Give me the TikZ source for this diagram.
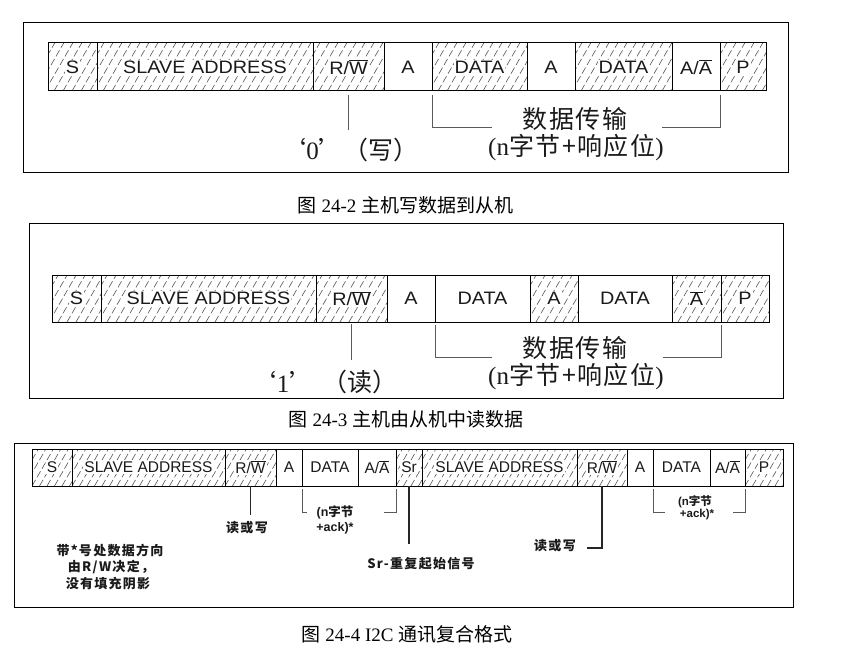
\documentclass[tikz,border=0pt]{standalone}
\usepackage{fontspec}
\setmainfont{Liberation Serif}
\newfontfamily\boxfont[FakeStretch=1.1]{Liberation Sans}
\newfontfamily\boxfontn{Liberation Sans}
\newfontfamily\cjk{Noto Sans CJK SC}
\newfontfamily\cjksp[LetterSpace=10]{Noto Sans CJK SC}
\newfontfamily\cjkbig[LetterSpace=6]{Noto Sans CJK SC}
\usetikzlibrary{calc}

\definecolor{hatchgray}{HTML}{555555}
\definecolor{linegray}{HTML}{5A5A5A}
\definecolor{txt}{HTML}{1A1A1A}

\newcommand\wb[1]{{\setlength{\fboxsep}{1pt}\colorbox{white}{#1}}}
\newcommand\ovl[1]{$\overline{\mbox{#1}}$}
\newcommand\fieldbox[7]{\node[fieldst,#6,minimum width={#3-#2},minimum height={#5-#4}] (#1) at ({(#2+#3)/2},{(#4+#5)/2}) {#7};}

\tikzset{
  fieldst/.style={draw=black, line width=1pt, inner sep=0pt, outer sep=0pt, text=txt},
  hatchline/.style={draw=hatchgray, line width=0.6pt, dash pattern=on 7pt off 3pt},
  hatched/.style={path picture={\foreach \k in {0,...,40}{\draw[hatchline] ($(path picture bounding box.south west)+(\k*#1pt-30pt,0pt)$) -- ++(60:70pt);}}},
  hatched/.default=9,
  rowA/.style={font=\boxfont\fontsize{18}{20}\selectfont},
  rowC/.style={font=\boxfontn\fontsize{15.5}{17}\selectfont},
  bracket/.style={draw=linegray, line width=0.8pt},
  tickline/.style={draw=linegray, line width=0.8pt},
  thickline/.style={draw=black!85, line width=1.3pt},
  frame/.style={draw=black, line width=1pt},
  bigcjk/.style={font=\cjkbig\fontsize{25}{28}\selectfont, text=txt, inner sep=0pt},
  midt/.style={font=\fontsize{25}{28}\selectfont, text=txt, inner sep=0pt},
  capt/.style={font=\fontsize{19}{22}\selectfont, text=black, inner sep=0pt},
  smallcjk/.style={font=\cjksp\bfseries\fontsize{13}{15}\selectfont, text=txt, inner sep=0pt},
  tinyt/.style={font=\boxfontn\bfseries\fontsize{12.5}{14}\selectfont, text=txt, inner sep=0pt},
}

\begin{document}
\begin{tikzpicture}[x=1pt,y=-1pt]
\fill[white] (0,0) rectangle (845,658);
\useasboundingbox (0,0) rectangle (845,658);

% ---------- frames ----------
\draw[frame] (23,23) rectangle (788,172);
\draw[frame] (29,223) rectangle (783,398);
\draw[frame] (14,443) rectangle (793,607);

% ---------- row 1 ----------
\fieldbox{s1}{48}{97}{43}{91}{hatched,rowA}{\wb{S}}
\fieldbox{sa1}{97}{313}{43}{91}{hatched,rowA}{\wb{SLAVE ADDRESS}}
\fieldbox{rw1}{313}{384}{43}{91}{hatched,rowA}{\wb{R/\ovl{W}}}
\fieldbox{a1}{384}{432}{43}{91}{rowA}{A}
\fieldbox{d1}{432}{527}{43}{91}{hatched,rowA}{\wb{DATA}}
\fieldbox{a1b}{527}{575}{43}{91}{rowA}{A}
\fieldbox{d1b}{575}{672}{43}{91}{hatched,rowA}{\wb{DATA}}
\fieldbox{aa1}{672}{720}{43}{91}{rowA}{A/\ovl{A}}
\fieldbox{p1}{720}{766}{43}{91}{hatched,rowA}{\wb{P}}

\coordinate (r1e) at (348.5,130);
\draw[tickline] ([yshift=-4pt]rw1.south) -- (r1e);
\coordinate (b1l) at (492,127);
\coordinate (b1r) at (662,127);
\draw[bracket] ([yshift=-4pt]d1.south west) |- (b1l);
\draw[bracket] ([yshift=-4pt]aa1.south east) |- (b1r);
\node[midt] (w0) at (350,150) {{\cjk ‘}0{\cjk ’（写）}};
\node[bigcjk] (dt1) at (575,119) {数据传输};
\node[bigcjk] (dt1b) at (576,148) {{\rmfamily (n}字节+响应位{\rmfamily )}};
\node[capt] (cap1) at (405.5,205) {{\cjk 图} 24-2 {\cjk 主机写数据到从机}};

% ---------- row 2 ----------
\fieldbox{s2}{52}{101}{275}{322}{hatched,rowA}{\wb{S}}
\fieldbox{sa2}{101}{316}{275}{322}{hatched,rowA}{\wb{SLAVE ADDRESS}}
\fieldbox{rw2}{316}{387}{275}{322}{hatched,rowA}{\wb{R/\ovl{W}}}
\fieldbox{a2}{387}{435}{275}{322}{rowA}{A}
\fieldbox{d2}{435}{530}{275}{322}{rowA}{DATA}
\fieldbox{a2b}{530}{578}{275}{322}{hatched,rowA}{\wb{A}}
\fieldbox{d2b}{578}{672}{275}{322}{rowA}{DATA}
\fieldbox{na2}{672}{721}{275}{322}{hatched,rowA}{\wb{\ovl{A}}}
\fieldbox{p2}{721}{769}{275}{322}{hatched,rowA}{\wb{P}}

\coordinate (r2e) at (351.5,360);
\draw[tickline] ([yshift=-2pt]rw2.south) -- (r2e);
\coordinate (b2l) at (492,357);
\coordinate (b2r) at (663,357);
\draw[bracket] ([yshift=-3pt]d2.south west) |- (b2l);
\draw[bracket] ([yshift=-3pt]na2.south east) |- (b2r);
\node[midt] (w1) at (283,382) {{\cjk ‘}1{\cjk ’}};
\node[midt] (w1b) at (360,382) {\cjk （读）};
\node[bigcjk] (dt2) at (575,348) {数据传输};
\node[bigcjk] (dt2b) at (576,377) {{\rmfamily (n}字节+响应位{\rmfamily )}};
\node[capt] (cap2) at (406,419) {{\cjk 图} 24-3 {\cjk 主机由从机中读数据}};

% ---------- row 3 ----------
\fieldbox{s3}{32}{72}{449}{486}{hatched=7.5,rowC}{\wb{S}}
\fieldbox{sa3}{72}{225}{449}{486}{hatched=7.5,rowC}{\wb{SLAVE ADDRESS}}
\fieldbox{rw3}{225}{276}{449}{486}{hatched=7.5,rowC}{\wb{R/\ovl{W}}}
\fieldbox{a3}{276}{302}{449}{486}{rowC}{A}
\fieldbox{d3}{302}{358}{449}{486}{rowC}{DATA}
\fieldbox{aa3}{358}{396}{449}{486}{rowC}{A/\ovl{A}}
\fieldbox{sr3}{396}{422}{449}{486}{hatched=7.5,rowC}{\wb{Sr}}
\fieldbox{sa4}{422}{577}{449}{486}{hatched=7.5,rowC}{\wb{SLAVE ADDRESS}}
\fieldbox{rw4}{577}{627}{449}{486}{hatched=7.5,rowC}{\wb{R/\ovl{W}}}
\fieldbox{a4}{627}{653}{449}{486}{rowC}{A}
\fieldbox{d4}{653}{710}{449}{486}{rowC}{DATA}
\fieldbox{aa4}{710}{745}{449}{486}{rowC}{A/\ovl{A}}
\fieldbox{p3}{745}{783}{449}{486}{hatched=7.5,rowC}{\wb{P}}

\coordinate (r3e) at (250.5,515);
\draw[thickline] (rw3.south) -- (r3e);
\coordinate (sre) at (409,544);
\draw[thickline] (sr3.south) -- (sre);
\coordinate (r4e) at (587,548);
\draw[thickline] (rw4.south) |- (r4e);
\coordinate (b3l) at (307,512);
\coordinate (b3r) at (384,512);
\draw[bracket] ([yshift=-3pt]d3.south west) |- (b3l);
\draw[bracket] ([yshift=-3pt]aa3.south east) |- (b3r);
\coordinate (b4l) at (665,512);
\coordinate (b4r) at (733,512);
\draw[bracket] ([yshift=-3pt]d4.south west) |- (b4l);
\draw[bracket] ([yshift=-3pt]aa4.south east) |- (b4r);

\node[smallcjk] (rwt3) at (247,528) {读或写};
\node[smallcjk] (rwt4) at (555,546) {读或写};
\node[smallcjk] (srt) at (421,564) {Sr-重复起始信号};
\node[tinyt] (bt1a) at (335,512) {(n{\cjk\bfseries 字节}};
\node[tinyt] (bt1b) at (335,528) {+ack)*};
\node[tinyt, font=\boxfontn\bfseries\fontsize{11.5}{13}\selectfont] (bt2a) at (695,502) {(n{\cjk\bfseries 字节}};
\node[tinyt, font=\boxfontn\bfseries\fontsize{11.5}{13}\selectfont] (bt2b) at (697,515) {+ack)*};
\node[smallcjk] (n1) at (110,550) {带*号处数据方向};
\node[smallcjk] (n2) at (111,567) {由R/W决定，};
\node[smallcjk] (n3) at (108,584) {没有填充阴影};
\node[capt] (cap3) at (407,634) {{\cjk 图} 24-4 I2C {\cjk 通讯复合格式}};
\end{tikzpicture}
\end{document}
